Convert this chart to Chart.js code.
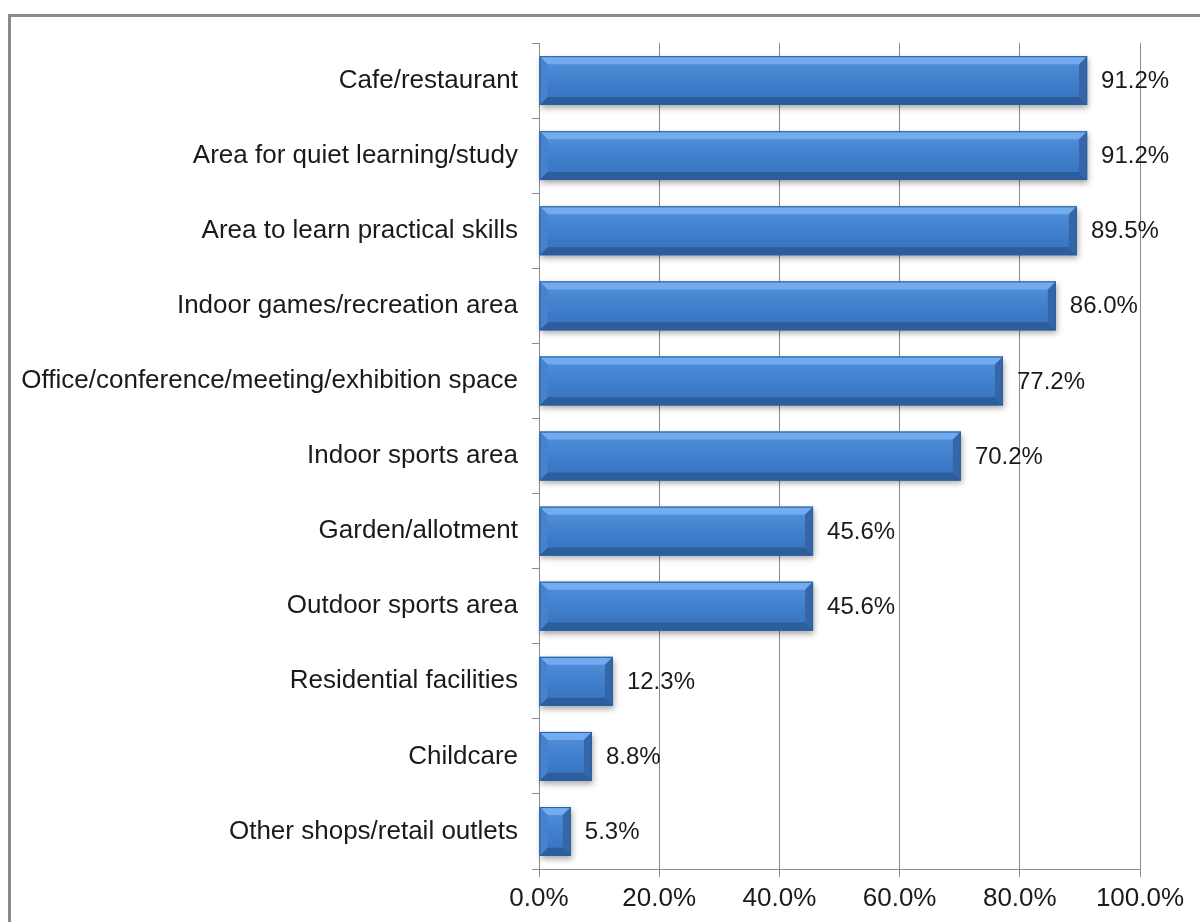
<!DOCTYPE html>
<html>
<head>
<meta charset="utf-8">
<script src="https://cdn.jsdelivr.net/npm/chart.js@4.4.0/dist/chart.umd.min.js"></script>
<style>
  html, body { margin: 0; padding: 0; background: #fff; overflow: hidden; }
  #wrap { position: relative; width: 1200px; height: 922px; }
  #frame { position: absolute; left: 8px; top: 14px; width: 1300px; height: 1000px;
           border-top: 3px solid #8a8a8a; border-left: 3px solid #8a8a8a; }
  canvas { position: absolute; left: 0; top: 0; }
</style>
</head>
<body>
<div id="wrap">
  <div id="frame"></div>
  <canvas id="chart" width="1200" height="922"></canvas>
</div>
<script>
// Datos del gráfico
const categories = [
  'Cafe/restaurant',
  'Area for quiet learning/study',
  'Area to learn practical skills',
  'Indoor games/recreation area',
  'Office/conference/meeting/exhibition space',
  'Indoor sports area',
  'Garden/allotment',
  'Outdoor sports area',
  'Residential facilities',
  'Childcare',
  'Other shops/retail outlets',
];
const values = [91.2, 91.2, 89.5, 86.0, 77.2, 70.2, 45.6, 45.6, 12.3, 8.8, 5.3];
const xTicks = [0, 20, 40, 60, 80, 100];

const FONT = 'Liberation Sans, Arial, sans-serif';
const FSIZE = 26;

// Barras con efecto bisel (estilo Excel)
const bevelPlugin = {
  id: 'bevel',
  beforeDatasetsDraw(chart) {
    const ctx = chart.ctx;
    chart.getDatasetMeta(0).data.forEach(bar => {
      const x0 = bar.base, x1 = bar.x, h = bar.height;
      const y0 = bar.y - h / 2;
      ctx.save();
      ctx.shadowColor = 'rgba(0,0,0,0.35)';
      ctx.shadowBlur = 6;
      ctx.shadowOffsetX = 1;
      ctx.shadowOffsetY = 3;
      ctx.fillStyle = '#3a74bd';
      ctx.fillRect(x0, y0, x1 - x0, h);
      ctx.restore();
    });
  },
  afterDatasetsDraw(chart) {
    const ctx = chart.ctx;
    chart.getDatasetMeta(0).data.forEach(bar => {
      const x0 = bar.base, x1 = bar.x, h = bar.height;
      const y0 = bar.y - h / 2, y1 = bar.y + h / 2;
      const b = Math.min(8, (x1 - x0) / 2);
      // centro
      const g = ctx.createLinearGradient(0, y0, 0, y1);
      g.addColorStop(0, '#5592dc');
      g.addColorStop(0.5, '#4080cc');
      g.addColorStop(1, '#3770bc');
      ctx.fillStyle = g;
      ctx.fillRect(x0, y0, x1 - x0, h);
      const poly = (pts, color) => {
        ctx.beginPath();
        ctx.moveTo(pts[0][0], pts[0][1]);
        pts.slice(1).forEach(p => ctx.lineTo(p[0], p[1]));
        ctx.closePath();
        ctx.fillStyle = color;
        ctx.fill();
      };
      poly([[x0, y0], [x1, y0], [x1 - b, y0 + b], [x0 + b, y0 + b]], '#72abef');
      poly([[x0, y1], [x1, y1], [x1 - b, y1 - b], [x0 + b, y1 - b]], '#2c5e9e');
      poly([[x1, y0], [x1, y1], [x1 - b, y1 - b], [x1 - b, y0 + b]], '#3567a8');
      poly([[x0, y0], [x0, y1], [x0 + b, y1 - b], [x0 + b, y0 + b]], '#4682cf');
      ctx.strokeStyle = '#2f5f9c';
      ctx.lineWidth = 1;
      ctx.strokeRect(x0 + 0.5, y0 + 0.5, x1 - x0 - 1, h - 1);
    });
  },
};

// Etiquetas de valor al final de cada barra
const labelPlugin = {
  id: 'valueLabels',
  afterDatasetsDraw(chart) {
    const ctx = chart.ctx;
    ctx.save();
    ctx.font = '24px ' + FONT;
    ctx.fillStyle = '#1a1a1a';
    ctx.textBaseline = 'middle';
    ctx.textAlign = 'left';
    chart.getDatasetMeta(0).data.forEach((bar, i) => {
      ctx.fillText(values[i].toFixed(1) + '%', bar.x + 14, bar.y + 1);
    });
    ctx.restore();
  },
};

new Chart(document.getElementById('chart'), {
  type: 'bar',
  data: {
    labels: categories,
    datasets: [{
      data: values,
      backgroundColor: 'rgba(0,0,0,0)',
      borderWidth: 0,
      categoryPercentage: 1,
      barPercentage: 0.65,
    }],
  },
  options: {
    indexAxis: 'y',
    responsive: false,
    devicePixelRatio: 1,
    animation: false,
    layout: { padding: { left: 0, top: 43, right: 60, bottom: 0 } },
    plugins: { legend: { display: false }, tooltip: { enabled: false } },
    scales: {
      x: {
        min: 0, max: 100,
        afterBuildTicks: s => { s.ticks = xTicks.map(v => ({ value: v })); },
        afterFit: s => { s.height = 53; },
        grid: { color: '#8c8c8c', tickLength: 8, lineWidth: 1 },
        border: { color: '#8c8c8c' },
        ticks: {
          color: '#1a1a1a', padding: 6,
          font: { family: FONT, size: FSIZE },
          callback: v => v.toFixed(1) + '%',
        },
      },
      y: {
        afterFit: s => { s.width = 539; },
        grid: { drawOnChartArea: false, color: '#8c8c8c', tickLength: 7 },
        border: { color: '#8c8c8c' },
        ticks: {
          color: '#1a1a1a', padding: 14,
          font: { family: FONT, size: FSIZE },
        },
      },
    },
  },
  plugins: [bevelPlugin, labelPlugin],
});
</script>
</body>
</html>
